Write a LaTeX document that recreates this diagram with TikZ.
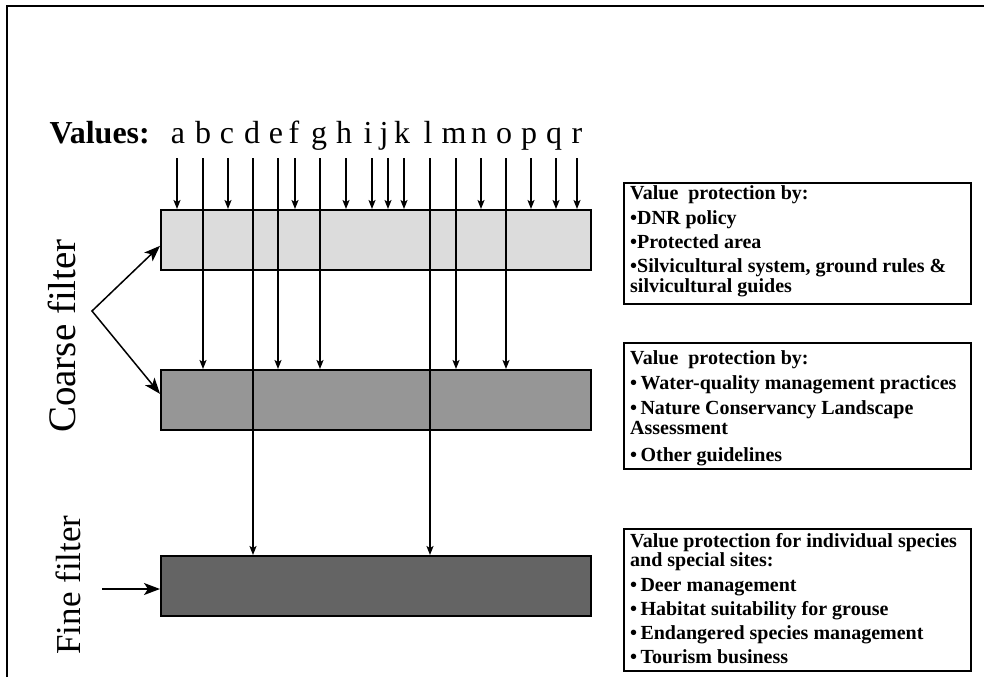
\documentclass[tikz,border=0pt]{standalone}
\usepackage{fontspec}
\setmainfont{Liberation Serif}
\usetikzlibrary{arrows.meta}

\definecolor{barlight}{HTML}{DCDCDC}
\definecolor{barmid}{HTML}{969696}
\definecolor{bardark}{HTML}{646464}

% tight line spacing for the explanation boxes
\newcommand\boxfont{\fontsize{20}{16}\selectfont\bfseries\lineskiplimit=-30pt\relax}

\begin{document}
\begin{tikzpicture}[x=1pt,y=-1pt,
  filterbar/.style={draw, line width=1.7pt, minimum width=430pt, minimum height=60pt,
                    inner sep=0pt, anchor=north west},
  infobox/.style={draw, line width=1.8pt, minimum width=347pt, inner sep=0pt, anchor=north west},
  infotext/.style={anchor=north west, inner sep=0pt, align=left, font=\boxfont},
  letter/.style={anchor=base, inner sep=0pt, text height=21pt, text depth=7pt,
                 font=\fontsize{32}{32}\selectfont},
  valarrow/.style={line width=1.3pt, -{Stealth[length=9pt,width=7pt,inset=2pt]}},
  bigarrow/.style={line width=1.5pt, -{Stealth[length=16pt,width=12pt,inset=4pt]}},
  twinarrow/.style={line width=1.5pt, line join=miter,
                    {Stealth[length=16pt,width=12pt,inset=4pt]}-{Stealth[length=16pt,width=12pt,inset=4pt]}},
  sidelabel/.style={rotate=90, anchor=base, inner sep=0pt}
]
\useasboundingbox (0,0) rectangle (984,677);

% outer frame (top and left edges)
\draw[line width=2.4pt] (7,677) -- (7,6) -- (984,6);

% the three filter bars
\node[filterbar, fill=barlight] (bar1) at (160,209) {};
\node[filterbar, fill=barmid]   (bar2) at (160,369) {};
\node[filterbar, fill=bardark]  (bar3) at (160,555) {};

% heading and value letters with their arrows
\node[anchor=base east, inner sep=0pt, font=\fontsize{32}{32}\selectfont\bfseries]
  (valhead) at (150,143) {Values:};
\foreach \n/\lx/\ax/\t in {a/178/177/1, b/203/203/2, c/227/228/1, d/252/253/3,
    e/276/278/2, f/294/295/1, g/319/320/2, h/344/346/1, i/368/372/1, j/384/388/1,
    k/402/404/1, l/428/430/3, m/454/456/2, n/479/481/1, o/504/506/2, p/529/531/1,
    q/554/556/1, r/577/577/1}{
  \node[letter] (v\n) at (\lx,143) {\n};
  \coordinate (s\n) at (\ax,158);
  \draw[valarrow] (s\n) -- (s\n |- bar\t.north);
}

% side labels
\node[sidelabel, font=\fontsize{39}{39}\selectfont] (coarse) at (75,336) {Coarse filter};
\node[sidelabel, font=\fontsize{35}{35}\selectfont] (fine)   at (80,585) {Fine filter};

\coordinate (cv) at (92,311);
\draw[twinarrow] ([yshift=-6pt]bar1.west) -- (cv) -- ([yshift=6pt]bar2.west);
\coordinate (fv) at (102,589);
\draw[bigarrow] (fv) -- (fv -| bar3.west);

% explanation boxes
\node[infobox, minimum height=121pt] (boxA) at (623,182) {};
\node[infotext] (txtA) at (630,185.5) {Value\ \ protection by:\\[9pt]
  •DNR policy\\[8pt]
  •Protected area\\[8pt]
  •Silvicultural system, ground rules \&\\[4pt]
  silvicultural guides};

\node[infobox, minimum height=126pt] (boxB) at (623,342) {};
\node[infotext] (txtB) at (630,350) {Value\ \ protection by:\\[9pt]
  •\,Water-quality management practices\\[9pt]
  •\,Nature Conservancy Landscape\\[4pt]
  Assessment\\[11pt]
  •\,Other guidelines};

\node[infobox, minimum height=142pt] (boxC) at (623,528) {};
\node[infotext] (txtC) at (630,533) {Value protection for individual species\\[3pt]
  and special sites:\\[9pt]
  •\,Deer management\\[8pt]
  •\,Habitat suitability for grouse\\[8pt]
  •\,Endangered species management\\[8pt]
  •\,Tourism business};
\end{tikzpicture}
\end{document}
